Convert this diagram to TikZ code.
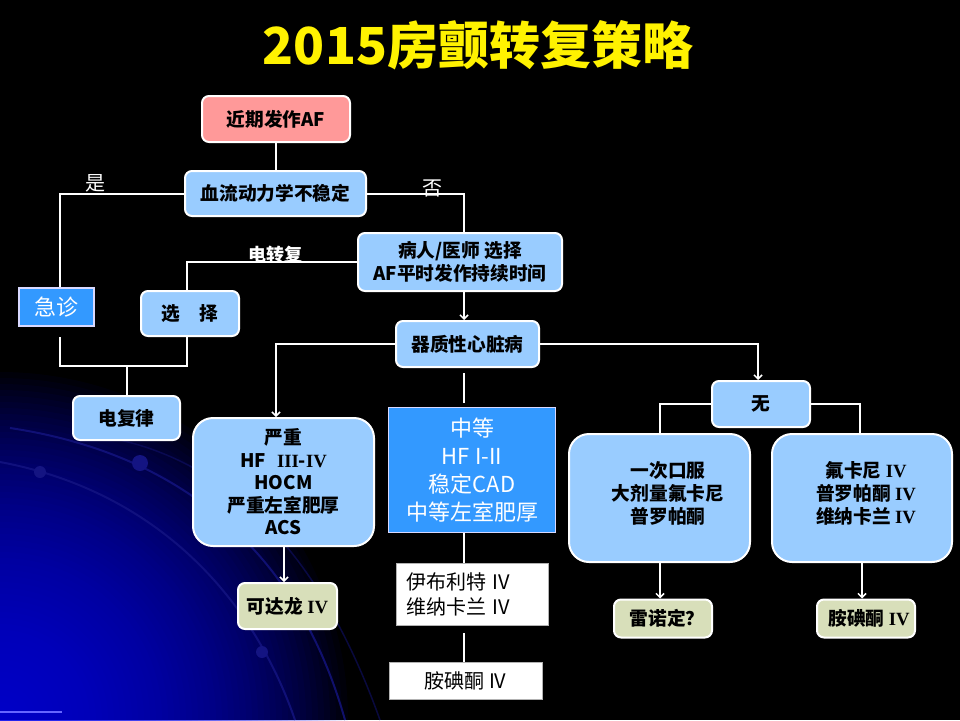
\documentclass[tikz,border=0pt]{standalone}
\usepackage{fontspec}
\setmainfont{Noto Sans CJK SC}
\newfontfamily\ser{Liberation Serif}
\usetikzlibrary{arrows.meta,calc}
\definecolor{lblue}{RGB}{153,204,255}
\definecolor{pinkbox}{RGB}{255,153,153}
\definecolor{mblue}{RGB}{51,153,255}
\definecolor{pgreen}{RGB}{216,223,186}
\definecolor{arcblue}{RGB}{20,20,130}
\definecolor{glow}{RGB}{8,8,235}
\tikzset{
  boxbase/.style={draw=white, line width=2pt, inner sep=0pt, align=center, text=black,
    font=\bfseries\fontsize{18.7}{22.5}\selectfont},
  lbx/.style={boxbase, fill=lblue, rounded corners=7pt},
  bigbx/.style={boxbase, fill=lblue, rounded corners=20pt},
  pkbx/.style={boxbase, fill=pinkbox, rounded corners=7pt},
  gbx/.style={boxbase, fill=pgreen, rounded corners=7pt},
  sqbx/.style={draw=white!85!blue, line width=1.2pt, fill=mblue, text=white, inner sep=0pt,
    align=center, font=\fontsize{22}{28}\selectfont},
  wbx/.style={draw=gray!60, line width=1pt, fill=white, text=black, inner sep=0pt,
    font=\fontsize{20}{25}\selectfont},
  conn/.style={draw=white, line width=2pt},
  arr/.style={conn, -{Straight Barb[length=4pt,width=8pt,line width=1.5pt]}},
  lbl/.style={text=white, inner sep=0pt, font=\fontsize{20}{24}\selectfont},
  txt/.style={inner sep=0pt, align=center, text=black, font=\bfseries\fontsize{18.7}{23}\selectfont}
}
\begin{document}
\begin{tikzpicture}[x=1pt,y=-1pt]
\useasboundingbox (0,0) rectangle (960,720);
% background
\begin{scope}
  \clip (0,0) rectangle (960,720);
  \fill[black] (0,0) rectangle (960,720);
  \foreach \r in {6,12,...,348} {
    \fill[glow, opacity=0.04] (0,720) circle (\r);
  }
  \draw[arcblue, line width=2pt, opacity=0.8] (10,428) .. controls (190,455) and (300,560) .. (345,720);
  \draw[arcblue, line width=2pt, opacity=0.8] (0,462) .. controls (150,490) and (250,590) .. (295,720);
  \draw[arcblue!80!black, line width=1.5pt, opacity=0.6] (120,440) .. controls (250,470) and (330,580) .. (380,720);
  \fill[arcblue] (40,472) circle (6);
  \fill[arcblue] (140,463) circle (8);
  \fill[arcblue] (262,652) circle (6);
  \draw[blue!60!white, line width=1.5pt] (0,712) -- (62,712);
\end{scope}

% title
\node[text=yellow, font=\bfseries\fontsize{51}{56}\selectfont, inner sep=0pt] (title) at (478,45) {2015房颤转复策略};

% helper coordinates
\coordinate (cL) at (60,0);
\coordinate (cR) at (464,0);
\coordinate (cX) at (187,0);
\coordinate (c276) at (276,0);
\coordinate (c284) at (284,0);
\coordinate (c758) at (758,0);
\coordinate (c660) at (660,0);
\coordinate (c860) at (860,0);
\coordinate (c862) at (862,0);
\coordinate (jzb) at (60,337);
\coordinate (m1) at (60,366);
\coordinate (m2) at (187,366);

% nodes
\node[pkbx, minimum width=148pt, minimum height=46pt] (n1) at (276,119) {近期发作AF};
\node[lbx, minimum width=181pt, minimum height=45pt] (n2) at (275.5,193.5) {血流动力学不稳定};
\node[sqbx, minimum width=75pt, minimum height=38pt] (jz) at (56.5,307) {急诊};
\node[lbx, minimum width=204pt, minimum height=58pt] (br) at (460,262) {病人/医师 选择\\AF平时发作持续时间};
\node[lbx, minimum width=98pt, minimum height=45pt] (xz) at (190,313.5) {选\hspace{1em}择};
\node[lbx, minimum width=143pt, minimum height=46pt] (qz) at (467.5,344) {器质性心脏病};
\node[lbx, minimum width=107pt, minimum height=44pt] (df) at (126.5,418) {电复律};
\node[lbx, minimum width=98pt, minimum height=46pt] (wu) at (761,404) {无};
\node[bigbx, minimum width=181pt, minimum height=128pt] (yz) at (283.5,482) {严重\\HF\hspace{0.6em}{\ser III}-{\ser IV}\\HOCM\\严重左室肥厚\\ACS};
\node[sqbx, minimum width=167pt, minimum height=125pt] (zd) at (472,470) {中等\\HF I-II\\稳定CAD\\中等左室肥厚};
\node[bigbx, minimum width=181pt, minimum height=128pt] (yc) at (659.5,498) {};
\node[txt] (yct) at (668,493) {一次口服\\大剂量氟卡尼\\普罗帕酮};
\node[bigbx, minimum width=180pt, minimum height=128pt] (fk) at (862,498) {};
\node[txt] (fkt) at (866,493) {氟卡尼 {\ser IV}\\普罗帕酮 {\ser IV}\\维纳卡兰 {\ser IV}};
\node[gbx, minimum width=99pt, minimum height=46pt] (kd) at (287.5,606) {可达龙 {\ser IV}};
\node[wbx, minimum width=152pt, minimum height=62pt, text width=132pt, align=left, inner xsep=10pt] (yb) at (472,594.5) {伊布利特 IV\\维纳卡兰 IV};
\node[wbx, minimum width=153pt, minimum height=37pt] (ad) at (465.5,680.5) {胺碘酮 IV};
\node[gbx, minimum width=98pt, minimum height=38pt] (ln) at (663,618.5) {\hspace{8pt}雷诺定？};
\node[gbx, minimum width=98pt, minimum height=38pt] (ar) at (866,618.5) {\hspace{6pt}胺碘酮 {\ser IV}};

% connectors
\draw[conn] (n1.south) -- (n1.south |- n2.north);
\draw[conn] (n2.west) -| (jz.north -| cL);
\draw[conn] (n2.east) -| (br.north -| cR);
\draw[conn] (br.west) -| (xz.north -| cX);
\draw[arr] (br.south -| cR) -- (qz.north -| cR);
\draw[conn] (jzb) -- (m1) -- (m2) -- (xz.south -| cX);
\draw[conn] (df.north) -- (df.north |- m1);
\draw[arr] (qz.west) -| (yz.north -| c276);
\draw[conn, shorten <=5pt, shorten >=4pt] (qz.south -| cR) -- (zd.north -| cR);
\draw[conn] (zd.south -| cR) -- (yb.north -| cR);
\draw[conn, shorten <=7pt] (yb.south -| cR) -- (ad.north -| cR);
\draw[arr] (qz.east) -| (wu.north -| c758);
\draw[conn] (wu.west) -| (yc.north -| c660);
\draw[conn] (wu.east) -| (fk.north -| c860);
\draw[arr] (yz.south -| c284) -- (kd.north -| c284);
\draw[arr] (yc.south -| c660) -- (ln.north -| c660);
\draw[arr] (fk.south -| c862) -- (ar.north -| c862);

% labels
\node[lbl] (shi) at (95,183) {是};
\node[lbl] (fou) at (432,188) {否};
\node[text=white, inner sep=0pt, font=\bfseries\fontsize{18}{20}\selectfont] (dzf) at (275,255) {电转复};
\end{tikzpicture}
\end{document}
